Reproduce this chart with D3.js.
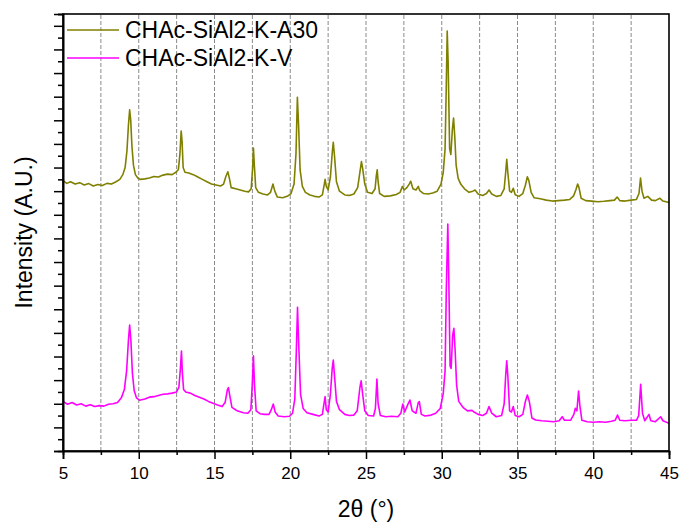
<!DOCTYPE html>
<meta charset="utf-8">
<body style="margin:0;background:#fff">
<script src="https://d3js.org/d3.v7.min.js"></script>
<svg></svg>
<script>
    // ---- data: [2theta, intensity (a.u.)] ----
    var seriesNames = ["CHAc-SiAl2-K-A30", "CHAc-SiAl2-K-V"];
    var seriesColors = ["#808000", "#ff00ff"];

    var a30 = [
        [5.00,11.45],[5.25,11.33],[5.5,11.40],[5.8,11.30],[6.1,11.36],[6.4,11.26],[6.7,11.32],[7.0,11.22],[7.3,11.28],[7.6,11.24],
        [7.9,11.33],[8.2,11.30],[8.5,11.40],[8.75,11.50],[8.95,11.70],[9.1,12.00],[9.22,12.70],[9.32,13.80],[9.40,14.44],[9.47,14.00],
        [9.55,12.90],[9.65,12.10],[9.78,11.70],[9.95,11.55],[10.1,11.50],[10.4,11.52],[10.7,11.56],[11.0,11.62],[11.3,11.60],[11.6,11.68],
        [11.9,11.72],[12.2,11.70],[12.45,11.80],[12.62,11.92],[12.72,12.60],[12.80,13.55],[12.86,13.10],[12.93,12.00],[13.05,11.80],[13.3,11.77],
        [13.6,11.70],[13.9,11.60],[14.2,11.50],[14.5,11.40],[14.8,11.30],[15.1,11.26],[15.4,11.22],[15.6,11.30],[15.75,11.62],[15.88,11.82],
        [15.98,11.55],[16.1,11.15],[16.4,11.10],[16.7,11.05],[17.0,11.00],[17.25,10.97],[17.42,11.10],[17.52,12.00],[17.57,12.83],[17.63,12.10],
        [17.72,11.15],[17.9,10.95],[18.2,10.88],[18.5,10.84],[18.7,10.95],[18.86,11.30],[18.98,11.00],[19.15,10.75],[19.5,10.72],[19.8,10.78],
        [20.05,10.90],[20.25,11.30],[20.38,12.60],[20.47,14.97],[20.55,13.80],[20.65,11.90],[20.8,11.20],[21.0,10.95],[21.3,10.84],[21.6,10.78],
        [21.9,10.75],[22.12,10.84],[22.25,11.30],[22.30,11.50],[22.38,11.20],[22.5,11.05],[22.65,11.60],[22.78,12.70],[22.84,13.07],[22.92,12.50],
        [23.05,11.40],[23.25,11.00],[23.6,10.84],[23.9,10.82],[24.2,10.88],[24.45,11.15],[24.62,11.90],[24.70,12.25],[24.78,11.95],[24.92,11.30],
        [25.1,10.95],[25.4,10.90],[25.6,11.10],[25.68,11.65],[25.74,11.90],[25.80,11.40],[25.9,10.90],[26.2,10.78],[26.6,10.80],[27.0,10.86],
        [27.25,10.95],[27.40,11.20],[27.52,11.05],[27.7,11.15],[27.85,11.30],[27.95,11.42],[28.1,11.10],[28.3,11.05],[28.45,11.20],[28.55,11.02],
        [28.8,10.90],[29.1,10.88],[29.4,10.92],[29.7,11.00],[29.95,11.30],[30.10,11.80],[30.22,12.80],[30.30,15.50],[30.36,17.78],[30.42,16.50],
        [30.52,12.80],[30.60,12.55],[30.70,13.60],[30.78,14.10],[30.86,13.30],[30.95,12.10],[31.08,11.55],[31.25,11.30],[31.5,11.10],[31.8,10.95],
        [32.05,11.00],[32.2,11.05],[32.4,10.88],[32.7,10.82],[32.95,10.90],[33.12,11.05],[33.3,10.88],[33.6,10.78],[33.9,10.82],[34.12,11.10],
        [34.22,11.80],[34.29,12.35],[34.36,11.80],[34.48,11.00],[34.6,10.95],[34.72,11.12],[34.85,10.85],[35.1,10.78],[35.35,10.90],[35.52,11.25],
        [35.65,11.61],[35.75,11.45],[35.9,10.95],[36.1,10.72],[36.5,10.68],[36.9,10.62],[37.3,10.58],[37.7,10.60],[38.1,10.62],[38.45,10.65],
        [38.7,10.80],[38.85,11.05],[38.97,11.30],[39.06,11.15],[39.2,10.70],[39.5,10.60],[39.9,10.58],[40.3,10.55],[40.7,10.57],[41.1,10.60],
        [41.4,10.62],[41.58,10.75],[41.75,10.60],[42.1,10.58],[42.5,10.62],[42.85,10.65],[43.02,10.90],[43.12,11.55],[43.22,11.00],[43.35,10.70],
        [43.6,10.78],[43.85,10.62],[44.1,10.60],[44.4,10.70],[44.6,10.58],[45.0,10.52]
    ];

    var v = [
        [5.00,2.10],[5.3,1.98],[5.6,2.05],[5.9,1.95],[6.2,2.00],[6.5,1.90],[6.8,1.96],[7.1,1.88],[7.4,1.92],[7.7,1.90],
        [8.0,1.98],[8.3,2.00],[8.6,2.05],[8.85,2.25],[9.05,2.60],[9.2,3.40],[9.32,4.70],[9.40,5.33],[9.48,4.70],[9.58,3.30],
        [9.7,2.55],[9.85,2.25],[10.05,2.15],[10.4,2.20],[10.7,2.28],[11.0,2.30],[11.3,2.35],[11.6,2.40],[11.9,2.42],[12.2,2.45],
        [12.5,2.50],[12.65,2.70],[12.75,3.50],[12.82,4.23],[12.88,3.30],[12.96,2.60],[13.1,2.50],[13.4,2.45],[13.7,2.35],[14.0,2.28],
        [14.3,2.20],[14.6,2.10],[14.9,2.02],[15.2,1.95],[15.5,1.88],[15.7,2.05],[15.85,2.60],[15.92,2.68],[16.02,2.30],[16.15,1.85],
        [16.5,1.70],[16.9,1.62],[17.2,1.60],[17.4,1.75],[17.5,2.90],[17.57,4.03],[17.64,2.80],[17.75,1.70],[18.0,1.58],[18.3,1.55],
        [18.6,1.55],[18.75,1.75],[18.88,1.99],[19.0,1.65],[19.2,1.48],[19.6,1.45],[19.95,1.47],[20.15,1.60],[20.3,2.20],[20.4,4.20],
        [20.48,6.08],[20.56,4.50],[20.68,2.40],[20.85,1.80],[21.1,1.62],[21.5,1.55],[21.9,1.48],[22.12,1.55],[22.25,2.10],[22.30,2.30],
        [22.38,1.75],[22.5,1.65],[22.65,2.40],[22.77,3.50],[22.84,3.85],[22.92,3.20],[23.05,2.10],[23.25,1.75],[23.6,1.55],[23.9,1.50],
        [24.2,1.52],[24.42,1.70],[24.6,2.70],[24.68,2.97],[24.78,2.40],[24.92,1.70],[25.15,1.50],[25.5,1.48],[25.62,1.80],[25.72,3.05],
        [25.80,2.00],[25.95,1.50],[26.3,1.45],[26.7,1.47],[27.1,1.45],[27.3,1.60],[27.43,1.99],[27.55,1.65],[27.75,1.95],[27.90,2.16],
        [28.05,1.70],[28.3,1.60],[28.45,2.05],[28.52,2.09],[28.65,1.55],[28.9,1.48],[29.3,1.52],[29.6,1.60],[29.9,1.80],[30.10,2.44],
        [30.22,3.40],[30.30,6.80],[30.40,9.61],[30.46,7.50],[30.55,3.60],[30.62,3.50],[30.72,4.90],[30.80,5.19],[30.88,4.30],[30.98,2.80],
        [31.12,2.10],[31.4,1.85],[31.7,1.70],[32.0,1.72],[32.1,1.66],[32.4,1.55],[32.7,1.50],[32.95,1.60],[33.12,1.88],[33.3,1.60],
        [33.6,1.45],[33.95,1.50],[34.12,2.00],[34.22,3.20],[34.29,3.82],[34.36,3.20],[34.48,1.70],[34.6,1.65],[34.72,1.88],[34.85,1.50],
        [35.1,1.45],[35.35,1.55],[35.52,2.10],[35.65,2.37],[35.78,2.10],[35.95,1.40],[36.2,1.31],[36.6,1.28],[37.0,1.26],[37.4,1.24],
        [37.75,1.28],[37.95,1.45],[38.1,1.30],[38.5,1.30],[38.72,1.55],[38.82,1.81],[38.92,1.70],[39.03,2.54],[39.12,1.90],[39.25,1.30],
        [39.6,1.24],[40.0,1.22],[40.4,1.24],[40.8,1.22],[41.2,1.26],[41.45,1.30],[41.6,1.52],[41.75,1.30],[42.1,1.28],[42.5,1.30],
        [42.85,1.30],[43.0,1.50],[43.13,2.82],[43.25,1.60],[43.4,1.28],[43.68,1.55],[43.8,1.28],[44.1,1.24],[44.45,1.45],[44.6,1.28],
        [45.0,1.17]
    ];

    var xMajorTicks = [5, 10, 15, 20, 25, 30, 35, 40, 45];
    var xMinorTicks = [7.5, 12.5, 17.5, 22.5, 27.5, 32.5, 37.5, 42.5];
    var gridValues = [7.5, 10, 12.5, 15, 17.5, 20, 22.5, 25, 27.5, 30, 32.5, 35, 37.5, 40, 42.5];
    var yMajorTicks = d3.range(0, 19, 1);
    var yMinorTicks = d3.range(0.5, 18.6, 1);

    var width = 681;
    var height = 522;
    var margin = {top: 14, right: 12, bottom: 71, left: 63};
    var font = "'Liberation Sans', Arial, sans-serif";

    var svg = d3.select("svg")
        .attr("width", width)
        .attr("height", height)
        .style("font-family", font);

    var x = d3.scaleLinear().domain([5, 45]).range([margin.left, width - margin.right]);
    var y = d3.scaleLinear().domain([0, 18.5]).range([height - margin.bottom, margin.top]);

    // dashed vertical grid
    svg.append("g").selectAll("line")
        .data(gridValues)
        .enter().append("line")
        .attr("x1", function(d){ return x(d); })
        .attr("x2", function(d){ return x(d); })
        .attr("y1", y(0))
        .attr("y2", y(18.5))
        .attr("stroke", "#8a8a8a")
        .attr("stroke-width", 1)
        .attr("stroke-dasharray", "4,2");

    // patterns
    var line = d3.line()
        .x(function(d){ return x(d[0]); })
        .y(function(d){ return y(d[1]); });

    [a30, v].forEach(function(s, i){
        svg.append("path")
            .datum(s)
            .attr("d", line)
            .attr("fill", "none")
            .attr("stroke", seriesColors[i])
            .attr("stroke-width", 1.6)
            .attr("stroke-linejoin", "round");
    });

    // frame
    svg.append("rect")
        .attr("x", x(5)).attr("y", y(18.5))
        .attr("width", x(45) - x(5))
        .attr("height", y(0) - y(18.5))
        .attr("fill", "none")
        .attr("stroke", "#000")
        .attr("stroke-width", 1.6);

    // x axis
    var xAxisMajor = svg.append("g")
        .attr("transform", "translate(0," + y(0) + ")")
        .call(d3.axisBottom(x).tickValues(xMajorTicks).tickSize(8).tickFormat(d3.format("d")));
    svg.append("g")
        .attr("transform", "translate(0," + y(0) + ")")
        .call(d3.axisBottom(x).tickValues(xMinorTicks).tickSize(4).tickFormat(""));

    // y axis (no labels)
    svg.append("g")
        .attr("transform", "translate(" + x(5) + ",0)")
        .call(d3.axisLeft(y).tickValues(yMajorTicks).tickSize(9).tickFormat(""));
    svg.append("g")
        .attr("transform", "translate(" + x(5) + ",0)")
        .call(d3.axisLeft(y).tickValues(yMinorTicks).tickSize(5).tickFormat(""));

    svg.selectAll(".domain").attr("stroke-width", 1.6);
    svg.selectAll(".tick line").attr("stroke-width", 1.5);

    xAxisMajor.selectAll("text")
        .attr("y", 28)
        .attr("dy", null)
        .style("font-family", font)
        .style("font-size", "17px")
        .attr("fill", "#000");

    // axis titles
    svg.append("text")
        .attr("x", (x(5) + x(45)) / 2)
        .attr("y", 516.5)
        .attr("text-anchor", "middle")
        .style("font-size", "23px")
        .text("2θ (°)");

    svg.append("text")
        .attr("transform", "rotate(-90)")
        .attr("x", -(y(0) + y(18.5)) / 2)
        .attr("y", 31.5)
        .attr("text-anchor", "middle")
        .style("font-size", "23px")
        .text("Intensity (A.U.)");

    // legend
    var legend = svg.append("g").selectAll("g")
        .data(seriesNames)
        .enter().append("g")
        .attr("transform", function(d, i){ return "translate(0," + (30 + i * 28) + ")"; });

    legend.append("line")
        .attr("x1", 67).attr("x2", 119)
        .attr("stroke", function(d, i){ return seriesColors[i]; })
        .attr("stroke-width", 1.5);

    legend.append("text")
        .attr("x", 125)
        .attr("y", 8.3)
        .style("font-size", "23px")
        .text(function(d){ return d; });
</script>
